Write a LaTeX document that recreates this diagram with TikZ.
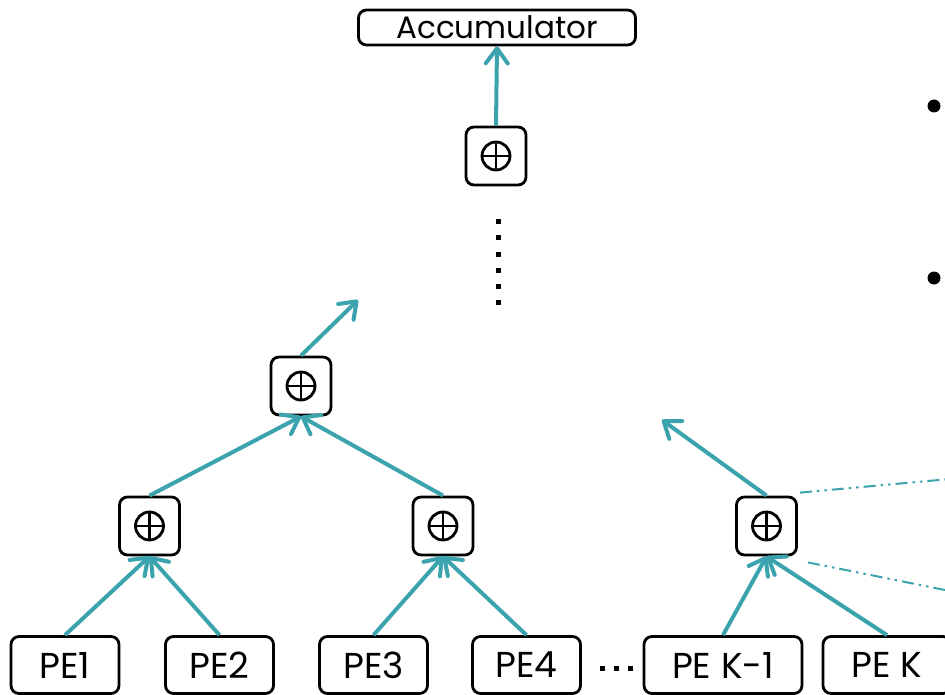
\documentclass[tikz,border=0pt]{standalone}
\usepackage{fontspec}
\setmainfont{Poppins}
\usetikzlibrary{arrows.meta}
\definecolor{link}{HTML}{3BA3AD}
\tikzset{
  box/.style={draw=black, line width=2.8pt, rounded corners=8pt, inner sep=0pt, fill=white},
  pebox/.style={box, minimum height=57pt, font=\fontsize{36}{36}\selectfont},
  addbox/.style={box, minimum width=60pt, minimum height=58pt,
    path picture={
      \draw[line width=2.8pt] (path picture bounding box.center) circle (14pt);
      \draw[line width=2.8pt] ([yshift=-14pt]path picture bounding box.center) -- ([yshift=14pt]path picture bounding box.center);
      \draw[line width=2.8pt] ([xshift=-14pt]path picture bounding box.center) -- ([xshift=14pt]path picture bounding box.center);
    }},
  flow/.style={draw=link, line width=4pt, -{Straight Barb[length=15pt, width=22pt, line width=4pt, round]}},
  hint/.style={draw=link, line width=2pt, dash pattern=on 12pt off 5pt on 2.5pt off 5pt on 2.5pt off 5pt},
  dot/.style={fill=black, minimum size=5pt, inner sep=0pt},
}
\begin{document}
\begin{tikzpicture}[x=1pt, y=-1pt]
  \useasboundingbox (0,0) rectangle (945,695);

  % output register
  \node[box, minimum width=277pt, minimum height=35pt, font=\fontsize{31}{31}\selectfont] (acc) at (497,27.5) {Accumulator};

  % adder tree
  \node[addbox] (t)  at (496,156) {};
  \node[addbox] (m1) at (301,386) {};
  \node[addbox] (a1) at (149.5,526) {};
  \node[addbox] (a2) at (443,526) {};
  \node[addbox] (a3) at (766.5,526) {};

  % processing elements
  \node[pebox, minimum width=108pt] (pe1) at (65,665) {PE1};
  \node[pebox, minimum width=108pt] (pe2) at (219.5,665) {PE2};
  \node[pebox, minimum width=108pt] (pe3) at (373.5,665) {PE3};
  \node[pebox, minimum width=108pt] (pe4) at (526.5,665) {PE4};
  \node[pebox, minimum width=158pt] (pek1) at (723,665) {PE K-1};
  \node[pebox, minimum width=128pt] (pek) at (887,665) {PE K};

  % free ends of partial connections
  \coordinate (up1) at (358,300);
  \coordinate (up3) at (662,420);
  \coordinate (h1) at (950,479);
  \coordinate (h2) at (950,591);

  % connectors
  \draw[flow] (pe1.north) -- (a1.south);
  \draw[flow] (pe2.north) -- (a1.south);
  \draw[flow] (pe3.north) -- (a2.south);
  \draw[flow] (pe4.north) -- (a2.south);
  \draw[flow] (pek1.north) -- (a3.south);
  \draw[flow] (pek.north) -- (a3.south);
  \draw[flow] (a1.north) -- (m1.south);
  \draw[flow] (a2.north) -- (m1.south);
  \draw[flow] (m1.north) -- (up1);
  \draw[flow] (a3.north) -- (up3);
  \draw[flow] (t.north) -- (acc.south);

  % zoom hints
  \draw[hint] ([xshift=2pt,yshift=3pt]a3.north east) -- (h1);
  \draw[hint] ([xshift=10pt,yshift=-6pt]a3.south east) -- (h2);

  % ellipses
  \foreach \k in {0,...,5} { \node[dot] (v\k) at (498,222+16*\k) {}; }
  \foreach \k/\xx in {0/602,1/616,2/630} { \node[dot] (h\k) at (\xx,668) {}; }

  % bullets
  \fill (934,106) circle (6.5pt);
  \fill (934,278) circle (6.5pt);
\end{tikzpicture}
\end{document}
